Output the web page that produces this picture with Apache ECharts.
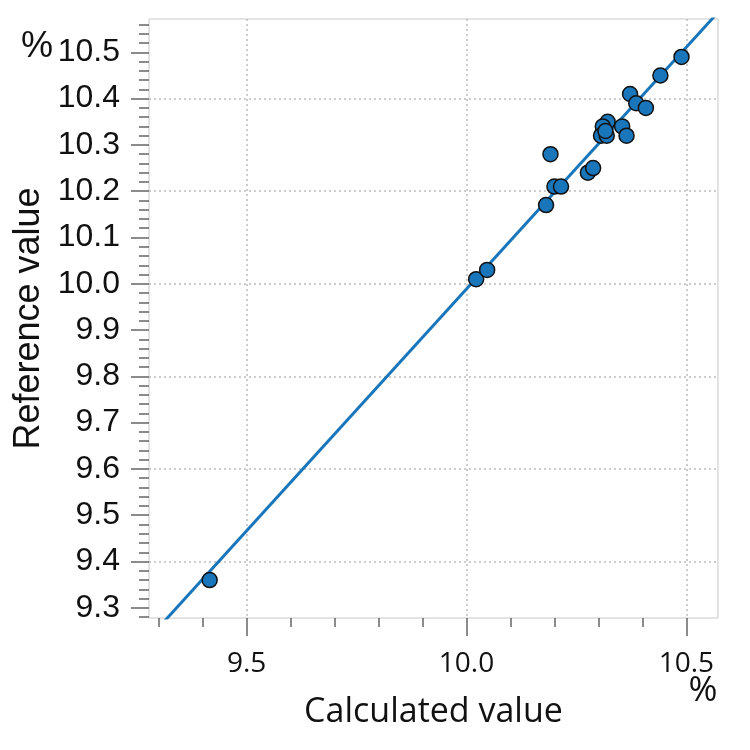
<!DOCTYPE html>
<html>
<head>
<meta charset="utf-8">
<script src="https://cdn.jsdelivr.net/npm/echarts@6/dist/echarts.min.js"></script>
<style>
  html, body { margin: 0; background: #fff; }
  #chart { width: 750px; height: 750px; }
</style>
</head>
<body>
<div id="chart"></div>
<script>
// calculated vs reference values (%)
const calcValues = [10.489, 10.441, 10.372, 10.386, 10.408, 10.321, 10.310, 10.306, 10.319, 10.316,
                    10.354, 10.364, 10.191, 10.276, 10.288, 10.200, 10.215, 10.181, 10.022, 10.047, 9.416]
const refValues  = [10.49, 10.45, 10.41, 10.39, 10.38, 10.35, 10.34, 10.32, 10.32, 10.33,
                    10.34, 10.32, 10.28, 10.24, 10.25, 10.21, 10.21, 10.17, 10.01, 10.03, 9.36]

// regression line end points (x, y)
const fitX = [9.20, 10.70]
const fitY = [9.153, 10.720]

const axisMin = 9.278
const axisMax = 10.572

const xMajorTicks = [9.5, 10.0, 10.5]
const xMinorTicks = [9.3, 9.4, 9.5, 9.6, 9.7, 9.8, 9.9, 10.0, 10.1, 10.2, 10.3, 10.4, 10.5]
const yMajorTicks = [9.3, 9.4, 9.5, 9.6, 9.7, 9.8, 9.9, 10.0, 10.1, 10.2, 10.3, 10.4, 10.5]
const yGridTicks  = [9.4, 9.6, 9.8, 10.0, 10.2, 10.4]

const steps = (from, to, step) => {
    const out = []
    for (let i = 0; from + i * step <= to + 1e-9; i++) out.push(+(from + i * step).toFixed(3))
    return out
}
const yMinorTicks = steps(9.28, 10.56, 0.02)

const tickColor = '#666'
const dotted = { color: '#bdbdbd', width: 1.5, type: [2, 3] }

const baseAxis = {
    type: 'value', min: axisMin, max: axisMax, gridIndex: 0,
    axisLine: { show: false },
    splitLine: { show: false },
    axisLabel: { show: false }
}

const myChart = echarts.init(document.getElementById('chart'))

myChart.setOption({
    animation: false,
    grid: { left: 149, right: 32, top: 19, bottom: 132, show: true, borderColor: '#c8c8c8', borderWidth: 1 },
    xAxis: [
        Object.assign({}, baseAxis, {
            position: 'bottom',
            axisTick: { customValues: xMajorTicks, length: 18, lineStyle: { color: tickColor, width: 1.5 } },
            axisLabel: {
                show: true, customValues: xMajorTicks, formatter: v => v.toFixed(1),
                fontFamily: 'Open Sans', fontSize: 28, color: '#111', margin: 32
            },
            splitLine: { show: true, lineStyle: dotted },
            name: 'Calculated value', nameLocation: 'middle', nameGap: 77,
            nameTextStyle: { fontFamily: 'Open Sans', fontSize: 34, color: '#111' }
        }),
        Object.assign({}, baseAxis, {
            position: 'bottom',
            axisTick: { customValues: xMinorTicks, length: 9, lineStyle: { color: tickColor, width: 1.5 } }
        })
    ],
    yAxis: [
        Object.assign({}, baseAxis, {
            position: 'left',
            axisTick: { customValues: yMajorTicks, length: 18, lineStyle: { color: tickColor, width: 1.5 } },
            axisLabel: {
                show: true, customValues: yMajorTicks, formatter: v => v.toFixed(1),
                fontFamily: 'Liberation Sans', fontSize: 32, color: '#111', margin: 29
            },
            name: 'Reference value', nameLocation: 'middle', nameRotate: 90, nameGap: 100,
            nameTextStyle: { fontFamily: 'Liberation Sans', fontSize: 36, color: '#111' }
        }),
        Object.assign({}, baseAxis, {
            position: 'left',
            axisTick: { customValues: yMinorTicks, length: 10, lineStyle: { color: tickColor, width: 1.5 } }
        }),
        Object.assign({}, baseAxis, {
            position: 'left',
            axisTick: { show: false, customValues: yGridTicks },
            splitLine: { show: true, lineStyle: dotted }
        })
    ],
    graphic: [
        { type: 'text', x: 37, y: 47, style: { text: '%', fontFamily: 'Liberation Sans', fontSize: 36, fill: '#111', textAlign: 'center', textVerticalAlign: 'middle' } },
        { type: 'text', x: 703, y: 691, style: { text: '%', fontFamily: 'Open Sans', fontSize: 35, fill: '#111', textAlign: 'center', textVerticalAlign: 'middle' } }
    ],
    series: [
        {
            type: 'line', xAxisIndex: 0, yAxisIndex: 0,
            data: fitX.map((x, i) => [x, fitY[i]]),
            showSymbol: false, clip: true, silent: true,
            lineStyle: { color: '#1a76bb', width: 3 }, z: 2
        },
        {
            type: 'scatter', xAxisIndex: 0, yAxisIndex: 0,
            data: calcValues.map((x, i) => [x, refValues[i]]),
            symbolSize: 15,
            itemStyle: { color: '#1a76bb', borderColor: '#111', borderWidth: 1.5, opacity: 1 },
            z: 3
        }
    ]
})
</script>
</body>
</html>
